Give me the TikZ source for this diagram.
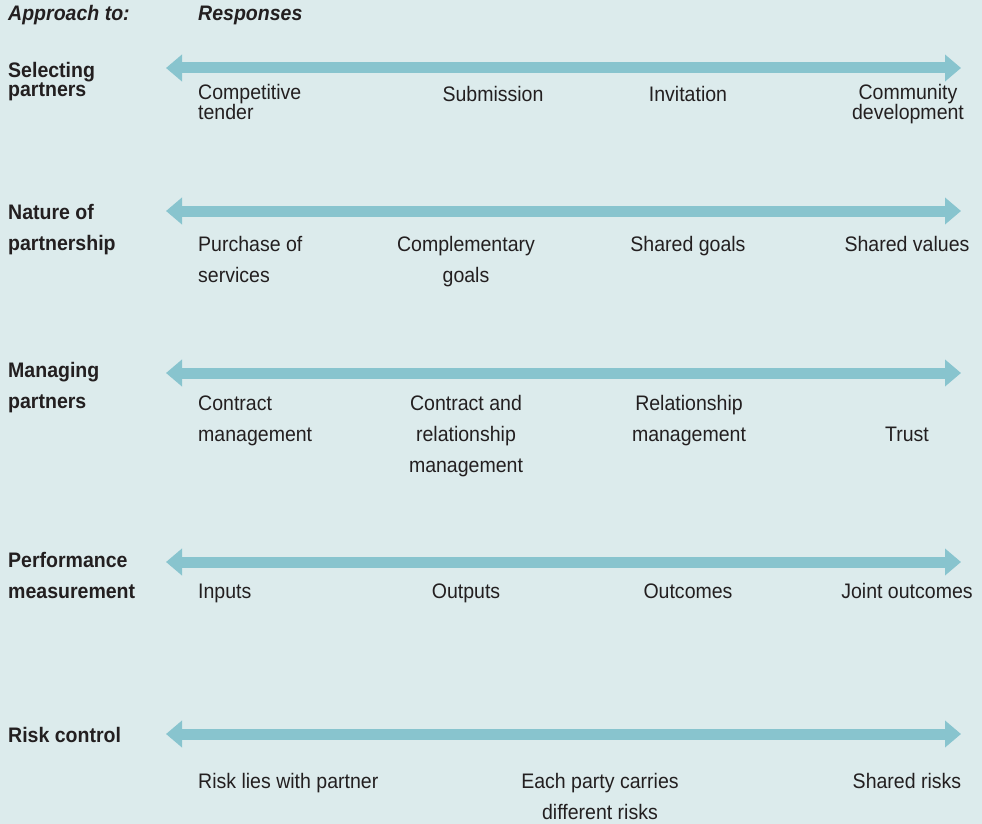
\documentclass[tikz,border=0pt]{standalone}
\usepackage{fontspec}
\setmainfont{Liberation Sans}[FakeStretch=0.93]
\usetikzlibrary{arrows.meta}

\definecolor{panel}{RGB}{220,235,236}
\definecolor{bar}{RGB}{136,196,206}
\definecolor{ink}{RGB}{35,31,32}

\begin{document}
\begin{tikzpicture}[x=1pt, y=-1pt, text=ink, every node/.style={inner sep=0pt},
  topic/.style={anchor=base west, align=left, font=\bfseries},
  lhs/.style={anchor=base west, align=left},
  mid/.style={anchor=base, align=center},
  tight/.style={font=\fontsize{21}{18}\selectfont},
  spread/.style={draw=bar, line width=11pt, >={Triangle[length=16pt,width=26pt]}, <->}]
\fontsize{21}{31}\selectfont
\fill [panel] (0,0) rectangle (982,824);
\useasboundingbox (0,0) rectangle (982,824);
% multi-line nodes sit on the baseline of their last line
\node [topic, font=\bfseries\itshape] (approach) at (8,21) {Approach to:};
\node [topic, font=\bfseries\itshape] (responses) at (198,21) {Responses};

% selecting partners
\coordinate (sel-l) at (166,68);
\coordinate (sel-r) at (961,68);
\draw [spread] (sel-l) -- (sel-r);
\node [topic, font=\bfseries\fontsize{21}{17}\selectfont] (sel) at (8,97) {Selecting\\partners};
\node [lhs, tight] (tender) at (198,120) {Competitive\\tender};
\node [mid, tight] (submission) at (493,102) {Submission};
\node [mid, tight] (invitation) at (688,102) {Invitation};
\node [mid, tight] (community) at (908,120) {Community\\development};

% nature of partnership
\coordinate (nat-l) at (166,211);
\coordinate (nat-r) at (961,211);
\draw [spread] (nat-l) -- (nat-r);
\node [topic] (nat) at (8,250) {Nature of\\partnership};
\node [lhs] (purchase) at (198,282) {Purchase of\\services};
\node [mid] (complementary) at (466,282) {Complementary\\goals};
\node [mid] (goals) at (688,251) {Shared goals};
\node [mid] (values) at (907,251) {Shared values};

% managing partners
\coordinate (man-l) at (166,373);
\coordinate (man-r) at (961,373);
\draw [spread] (man-l) -- (man-r);
\node [topic] (man) at (8,408) {Managing\\partners};
\node [lhs] (contract) at (198,441) {Contract\\management};
\node [mid] (mixed) at (466,472) {Contract and\\relationship\\management};
\node [mid] (relationship) at (689,441) {Relationship\\management};
\node [mid] (trust) at (907,441) {Trust};

% performance measurement
\coordinate (perf-l) at (166,562);
\coordinate (perf-r) at (961,562);
\draw [spread] (perf-l) -- (perf-r);
\node [topic] (perf) at (8,598) {Performance\\measurement};
\node [lhs] (inputs) at (198,598) {Inputs};
\node [mid] (outputs) at (466,598) {Outputs};
\node [mid] (outcomes) at (688,598) {Outcomes};
\node [mid] (joint) at (907,598) {Joint outcomes};

% risk control
\coordinate (risk-l) at (166,734);
\coordinate (risk-r) at (961,734);
\draw [spread] (risk-l) -- (risk-r);
\node [topic] (risk) at (8,742) {Risk control};
\node [lhs] (partner) at (198,788) {Risk lies with partner};
\node [mid] (each) at (600,819) {Each party carries\\different risks};
\node [mid] (shared) at (907,788) {Shared risks};
\end{tikzpicture}
\end{document}
